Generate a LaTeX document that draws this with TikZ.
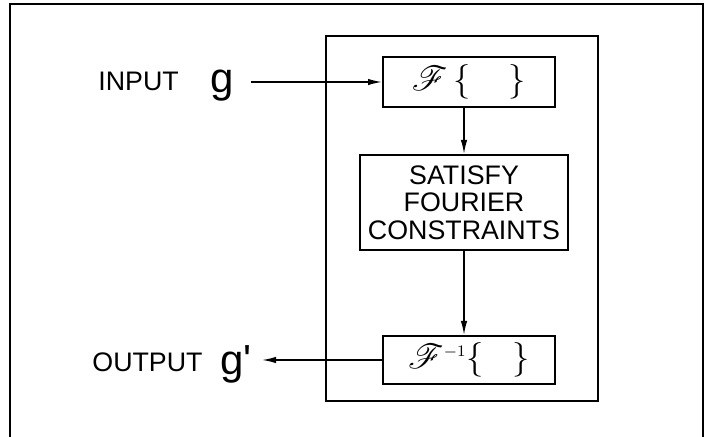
\documentclass[tikz,border=0pt]{standalone}
\usepackage{fontspec}
\usepackage{mathrsfs}
\setmainfont{Liberation Sans}
\newfontfamily\plainsans{Liberation Sans}
\usetikzlibrary{arrows.meta}

\tikzset{
  blk/.style={draw,line width=1pt,inner sep=0pt},
  lbl/.style={inner sep=0pt,font=\fontsize{13.4}{14.4}\selectfont},
  big/.style={inner sep=0pt,font=\plainsans\fontsize{21}{22}\selectfont},
  fop/.style={font=\fontsize{16}{17}\selectfont}
}

\begin{document}
\begin{tikzpicture}[x=0.5pt,y=-0.5pt,
    arr/.style={line width=0.7pt,-{Latex[length=7pt,width=3.2pt]}}]
  \useasboundingbox (0,0) rectangle (711,437);
  \draw[line width=1.1pt] (10,437) -- (10,4) -- (703,4) -- (703,437);
  \draw[line width=0.9pt] (326,36) rectangle (598,401);

  % transform, constraints, inverse transform
  \node[blk,fop,minimum width=86pt,minimum height=25pt] (ft) at (469,82)
    {$\mathscr{F}\,\Bigl\{\;\;\;\;\Bigr\}$};
  \node[blk,minimum width=104pt,minimum height=47.5pt,align=center,
        font=\fontsize{13.4}{13.8}\selectfont] (sat) at (464,202.5)
    {SATISFY\\FOURIER\\CONSTRAINTS};
  \node[blk,fop,minimum width=86pt,minimum height=24pt] (fti) at (469,360)
    {$\mathscr{F}^{\scriptscriptstyle -1}\Bigl\{\;\;\;\Bigr\}$};

  \node[lbl,anchor=base west] (inlbl) at (98,91) {INPUT};
  \node[big,anchor=base west] (g) at (210,93) {g};
  \node[lbl,anchor=base west] (outlbl) at (92,372) {OUTPUT};
  \node[big,anchor=base west] (gp) at (220,375) {g'};

  \coordinate (inpt) at (251,82);
  \coordinate (outpt) at (262,360);
  \draw[arr] (inpt) -- (ft.west);
  \draw[arr] (ft.south -| sat.north) -- (sat.north);
  \draw[arr] (sat.south) -- (sat.south |- fti.north);
  \draw[arr] (fti.west) -- (outpt);
\end{tikzpicture}
\end{document}
